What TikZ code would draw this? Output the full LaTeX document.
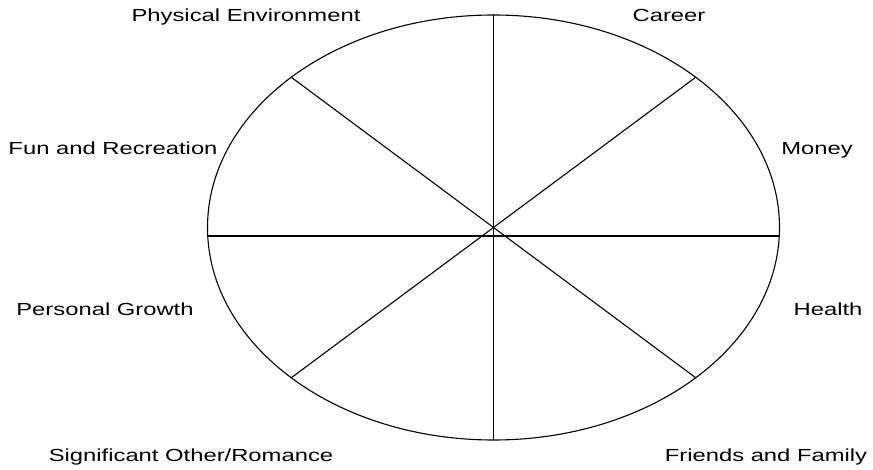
\documentclass[tikz,border=0pt]{standalone}
\usepackage{fontspec}
\setmainfont[FakeStretch=1.36]{Liberation Sans}
\usetikzlibrary{shapes.geometric,calc}
\tikzset{
  wheel/.style={ellipse,draw,line width=1.1pt,inner sep=0pt,outer sep=0pt,
    minimum width=572pt,minimum height=425pt},
  spoke/.style={line width=1.1pt},
  area/.style={anchor=base,inner sep=0pt,font=\fontsize{17.5}{20}\selectfont},
}
\begin{document}
\begin{tikzpicture}[x=1pt,y=-1pt]
  \useasboundingbox (0,0) rectangle (873,470);
  \node[wheel] (w) at (493.5,227.5) {};
  \draw[spoke] (w.north) -- (w.south);
  \draw[spoke] (w.north west) -- (w.south east);
  \draw[spoke] (w.north east) -- (w.south west);
  \draw[spoke] ([yshift=-8.5pt]w.west) -- ([yshift=-8.5pt]w.east);
  % life areas
  \node[area] (phys) at (246,21.5) {Physical Environment};
  \node[area] (career) at (669,21.5) {Career};
  \node[area] (fun) at (113,154.5) {Fun and Recreation};
  \node[area] (money) at (817,154.5) {Money};
  \node[area] (growth) at (105,315.5) {Personal Growth};
  \node[area] (health) at (828,315.5) {Health};
  \node[area] (romance) at (191,461.5) {Significant Other/Romance};
  \node[area] (family) at (766,461.5) {Friends and Family};
\end{tikzpicture}
\end{document}
